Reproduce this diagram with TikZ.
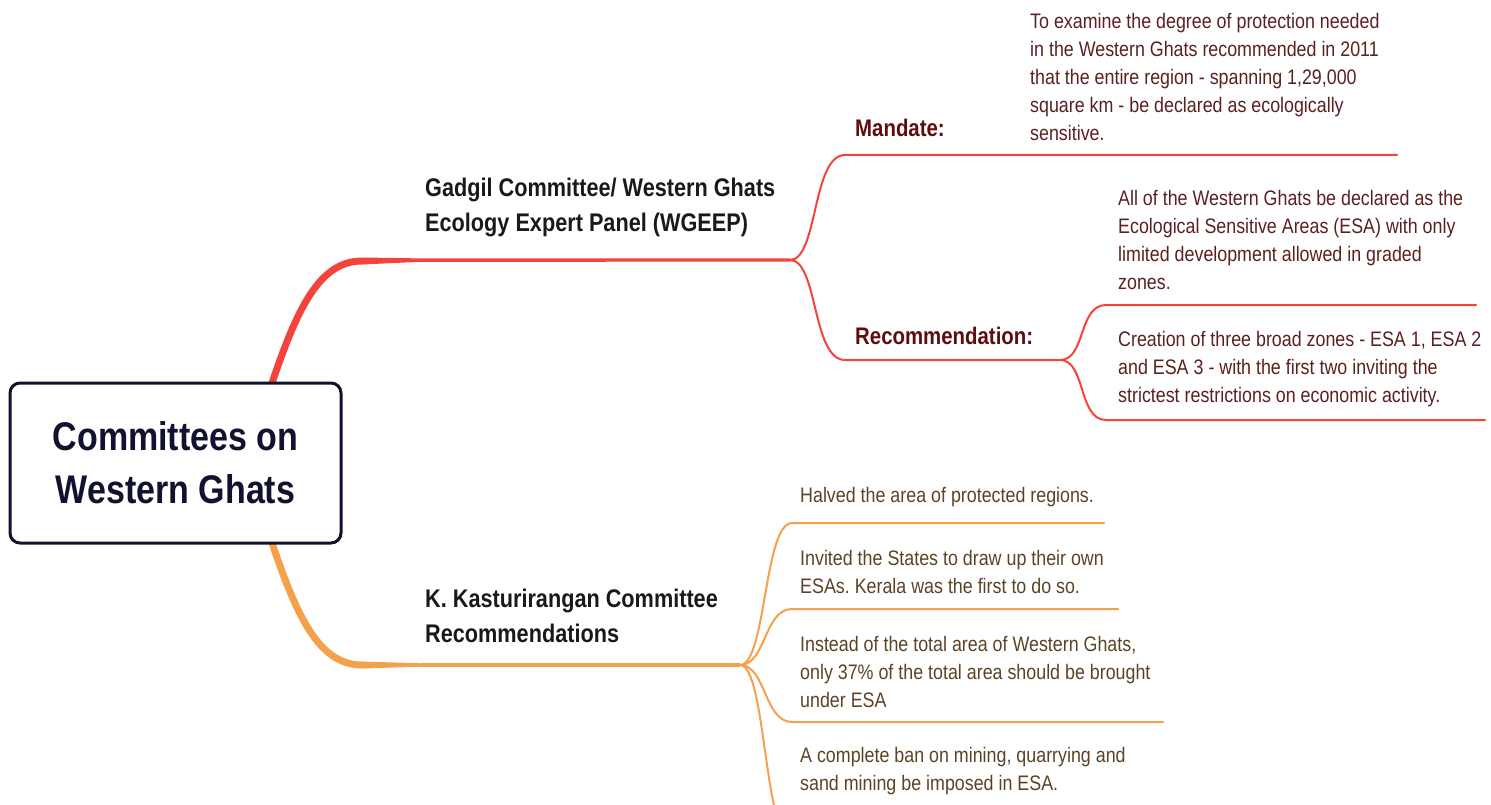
\documentclass[tikz,border=0pt]{standalone}
\usepackage{fontspec}
\setmainfont{Liberation Sans}[FakeStretch=0.85]
\usetikzlibrary{positioning}
\frenchspacing

\definecolor{gadgilred}{HTML}{F4433A}
\definecolor{kastorange}{HTML}{F5A04B}
\definecolor{rootnavy}{HTML}{121230}
\definecolor{labelmaroon}{HTML}{5E0D0D}
\definecolor{leafred}{HTML}{5B2020}
\definecolor{leafbrown}{HTML}{5C4324}

\begin{document}
\begin{tikzpicture}[x=1pt, y=-1pt,
    leaf/.style={anchor=west, inner sep=0pt, align=left, font=\fontsize{21}{28}\selectfont},
    topic/.style={anchor=west, inner sep=0pt, align=left, text=black!90, font=\fontsize{25.5}{35}\selectfont\bfseries},
    sublabel/.style={anchor=west, inner sep=0pt, text=labelmaroon, font=\fontsize{24}{30}\selectfont\bfseries},
    twig/.style={line width=2pt, line cap=round}]
    \useasboundingbox (0,0) rectangle (1491,805);
    \clip (0,0) rectangle (1491,805);

    % junction points
    \coordinate (gStart) at (271,386);
    \coordinate (gBend) at (362,261);
    \coordinate (gSplit) at (790,260);
    \coordinate (rSplit) at (1060,360);
    \coordinate (kStart) at (271,540);
    \coordinate (kBend) at (362,665);
    \coordinate (kSplit) at (740,665);

    % Gadgil branch
    \draw[gadgilred, line width=7pt] (gStart) .. controls (296,312) and (318,261) .. (gBend);
    \fill[gadgilred] (362,257.5) -- (420,258.4) -- (420,261.8) -- (362,264.5) -- cycle;
    \draw[gadgilred, line width=3.4pt] (420,260.1) -- (gSplit);
    \draw[twig, gadgilred] (gSplit) .. controls (818,260) and (812,155) .. (845,155) -- (1397,155);
    \draw[twig, gadgilred] (gSplit) .. controls (818,260) and (812,360) .. (845,360) -- (rSplit);
    \draw[twig, gadgilred] (rSplit) .. controls (1086,360) and (1078,305) .. (1106,305) -- (1476,305);
    \draw[twig, gadgilred] (rSplit) .. controls (1086,360) and (1078,420) .. (1106,420) -- (1485,420);

    % Kasturirangan branch
    \draw[kastorange, line width=7pt] (kStart) .. controls (296,614) and (318,665) .. (kBend);
    \fill[kastorange] (362,661.5) -- (420,663.3) -- (420,666.7) -- (362,668.5) -- cycle;
    \draw[kastorange, line width=3.4pt] (420,665) -- (kSplit);
    \foreach \ty/\tx in {523/1104, 609/1118, 722/1163, 840/1150}
        \draw[twig, kastorange] (kSplit) .. controls (766,665) and (764,\ty) .. (792,\ty) -- (\tx,\ty);

    % central box
    \node[draw=rootnavy, fill=white, line width=3pt, rounded corners=10pt, minimum width=331pt, minimum height=160pt,
        text=rootnavy, align=center, font=\fontsize{40}{53}\selectfont\bfseries] (root) at (175.5,463) {Committees on\\Western Ghats};

    % topic labels
    \node[topic] (gadgil) at (425,207) {Gadgil Committee/ Western Ghats\\Ecology Expert Panel (WGEEP)};
    \node[topic] (kast) at (425,616) {K. Kasturirangan Committee\\Recommendations};
    \node[sublabel] (mandate) at (855,128) {Mandate:};
    \node[sublabel] (recom) at (855,336) {Recommendation:};

    % leaves
    \node[leaf, text=leafred] (mandateText) at (1030,76.5) {To examine the degree of protection needed\\in the Western Ghats recommended in 2011\\that the entire region - spanning 1,29,000\\square km - be declared as ecologically\\sensitive.};
    \node[leaf, text=leafred] (recOne) at (1118,239.5) {All of the Western Ghats be declared as the\\Ecological Sensitive Areas (ESA) with only\\limited development allowed in graded\\zones.};
    \node[leaf, text=leafred] (recTwo) at (1118,369.5) {Creation of three broad zones - ESA 1, ESA 2\\and ESA 3 - with the first two inviting the\\strictest restrictions on economic activity.};
    \node[leaf, text=leafbrown] (kOne) at (800,497.5) {Halved the area of protected regions.};
    \node[leaf, text=leafbrown] (kTwo) at (800,572) {Invited the States to draw up their own\\ESAs. Kerala was the first to do so.};
    \node[leaf, text=leafbrown] (kThree) at (800,671.5) {Instead of the total area of Western Ghats,\\only 37\% of the total area should be brought\\under ESA};
    \node[leaf, text=leafbrown] (kFour) at (800,771.5) {A complete ban on mining, quarrying and\\sand mining be imposed in ESA.};
\end{tikzpicture}
\end{document}
